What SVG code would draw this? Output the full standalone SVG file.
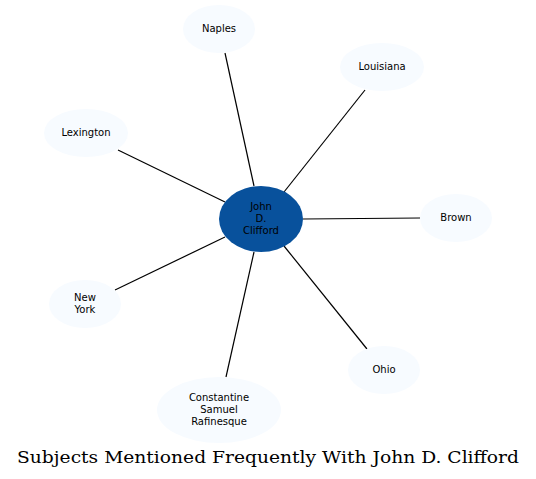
<svg xmlns="http://www.w3.org/2000/svg" width="536" height="479" viewBox="0 0 536 479">
<style>
.n ellipse{fill:#f7fbff;stroke:none}
.n text{font-family:"DejaVu Sans",sans-serif;font-size:10px;fill:#000;text-anchor:middle}
#edges line{stroke:#000;stroke-width:1.2}
.t{font-family:"DejaVu Serif",serif;font-size:16.5px;text-anchor:middle}
</style>
<rect width="536" height="479" fill="#fff"/>
<g id="edges">
<line x1="254" y1="186" x2="225" y2="53"/>
<line x1="284" y1="192" x2="365" y2="90"/>
<line x1="225" y1="202" x2="118" y2="150"/>
<line x1="303" y1="219" x2="420" y2="218"/>
<line x1="225" y1="237" x2="115" y2="290"/>
<line x1="284" y1="246" x2="367" y2="349"/>
<line x1="254" y1="252" x2="226" y2="377"/>
</g>
<g id="center" class="n"><ellipse cx="261" cy="219" rx="42" ry="33" style="fill:#08519c"/><text x="261" y="210">John</text><text x="261" y="222">D.</text><text x="261" y="234">Clifford</text></g>
<g id="naples" class="n"><ellipse cx="219" cy="29" rx="36" ry="24"/><text x="219" y="32">Naples</text></g>
<g id="louisiana" class="n"><ellipse cx="382" cy="67" rx="42" ry="24"/><text x="382" y="70">Louisiana</text></g>
<g id="lexington" class="n"><ellipse cx="86" cy="133" rx="42" ry="24"/><text x="86" y="136">Lexington</text></g>
<g id="brown" class="n"><ellipse cx="456" cy="218" rx="36" ry="24"/><text x="456" y="221">Brown</text></g>
<g id="newyork" class="n"><ellipse cx="85" cy="304" rx="36" ry="24"/><text x="85" y="301">New</text><text x="85" y="313">York</text></g>
<g id="ohio" class="n"><ellipse cx="384" cy="370" rx="36" ry="24"/><text x="384" y="373">Ohio</text></g>
<g id="constantine" class="n"><ellipse cx="219" cy="410" rx="62" ry="33"/><text x="219" y="401">Constantine</text><text x="219" y="413">Samuel</text><text x="219" y="425">Rafinesque</text></g>
<text class="t" x="268" y="463" textLength="502" lengthAdjust="spacingAndGlyphs">Subjects Mentioned Frequently With John D. Clifford</text>
</svg>
